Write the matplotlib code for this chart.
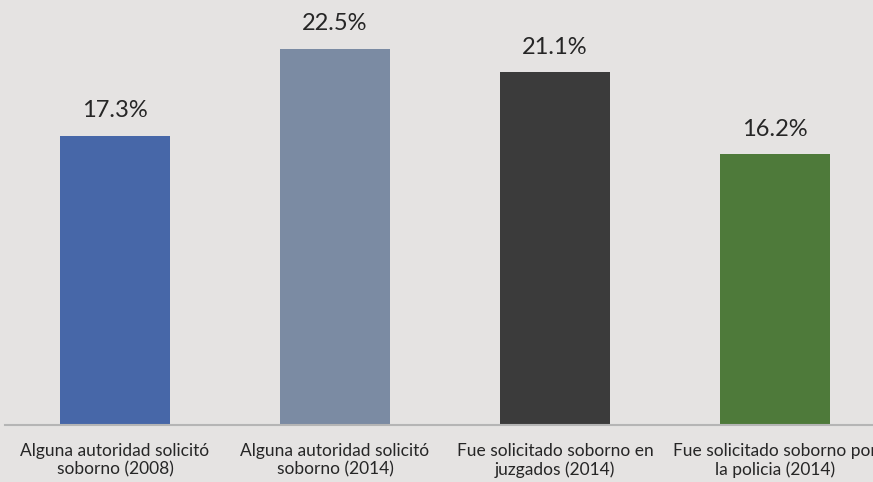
import matplotlib.pyplot as plt

categories = ["Alguna autoridad solicitó\nsoborno (2008)",
              "Alguna autoridad solicitó\nsoborno (2014)",
              "Fue solicitado soborno en\njuzgados (2014)",
              "Fue solicitado soborno por\nla policia (2014)"]
values = [17.3, 22.5, 21.1, 16.2]
colors = ["#4767a8", "#7b8ba3", "#3b3b3b", "#4e7a3a"]

plt.rcParams['font.family'] = ['Lato', 'DejaVu Sans']

fig = plt.figure(figsize=(8.73, 4.82), dpi=100)
bg = "#e5e3e2"
fig.patch.set_facecolor(bg)
ax = fig.add_axes([5 / 873, 57 / 482, 868 / 873, 425 / 482])
ax.set_facecolor(bg)

x = range(len(values))
bars = ax.bar(x, values, width=0.5, color=colors)
for xi, v in zip(x, values):
    ax.text(xi, v + 0.85, f"{v}%", ha='center', va='bottom', fontsize=17, color="#262626")

ax.set_xlim(-0.5, 3.5 - 12 / 220)
ax.set_ylim(0, 25.4)
ax.set_yticks([])
ax.set_xticks(list(x))
ax.set_xticklabels(categories, fontsize=12.5, color="#262626", linespacing=1.15)
ax.tick_params(axis='x', length=0, pad=13)
for s in ['top', 'right', 'left']:
    ax.spines[s].set_visible(False)
ax.spines['bottom'].set_color("#b5b5b5")
ax.spines['bottom'].set_linewidth(1.5)

fig.savefig("out.png", dpi=100, facecolor=bg)
